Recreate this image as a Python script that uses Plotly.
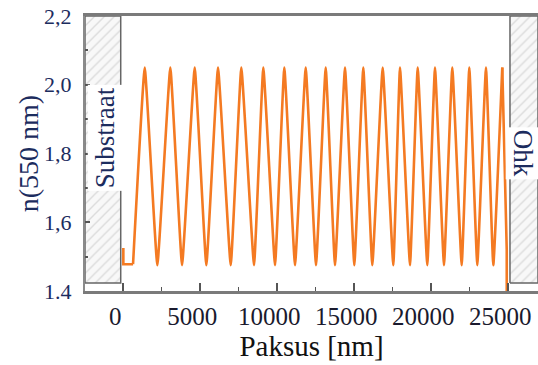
import plotly.graph_objects as go

# Refractive-index depth profile (rugate-type stack)
depth_nm = [0, 0, 630, 1390, 2208, 3052, 3812, 4636, 5390, 6149, 6974, 7662,
            8487, 9091, 9851, 10455, 11149, 11844, 12513, 13143, 13747, 14396,
            15000, 15584, 16169, 16844, 17532, 17968, 18617, 19117, 19740,
            20240, 20825, 21364, 21974, 22468, 22987, 23552, 24026, 24610,
            24900, 24900]
n_550 = [1.525, 1.478, 1.478, 2.05, 1.475, 2.05, 1.475, 2.05, 1.475, 2.05,
         1.475, 2.05, 1.475, 2.05, 1.475, 2.05, 1.475, 2.05, 1.475, 2.05,
         1.475, 2.05, 1.475, 2.05, 1.475, 2.05, 1.475, 2.05, 1.475, 2.05,
         1.475, 2.05, 1.475, 2.05, 1.475, 2.05, 1.475, 2.05, 1.475, 2.05,
         1.52, 1.0]

x_range = [-2490, 26930]
y_range = [1.4, 2.2]
substrate_nm = [-2490, -170]
ambient_nm = [25110, 26930]
region_n = [1.423, 2.2]

x_tickvals = [0, 5000, 10000, 15000, 20000, 25000]
y_tickvals = [1.4, 1.6, 1.8, 2.0, 2.2]
y_ticktext = ["1.4", "1,6", "1,8", "2,0", "2,2"]

SERIF = "Liberation Serif"
NAVY = "#1c2c5e"
ORANGE = "#f47a22"

fig = go.Figure()


def region(xr, yr):
    x0, x1 = xr
    y0, y1 = yr
    fig.add_trace(go.Scatter(
        x=[x0, x1, x1, x0, x0], y=[y0, y0, y1, y1, y0],
        mode="lines", fill="toself",
        line=dict(color="#666666", width=1.5),
        fillcolor="#f6f6f6",
        fillpattern=dict(shape="/", fgcolor="#bdbdbd", bgcolor="#f8f8f8",
                         size=7, solidity=0.2),
        hoverinfo="skip", showlegend=False))


region(substrate_nm, region_n)
region(ambient_nm, region_n)

# start segment, oscillating stack, end segment
fig.add_trace(go.Scatter(x=depth_nm[:3], y=n_550[:3], mode="lines",
                         line=dict(color=ORANGE, width=2.6), showlegend=False))
fig.add_trace(go.Scatter(x=depth_nm[2:-2], y=n_550[2:-2], mode="lines",
                         line=dict(color=ORANGE, width=2.6, shape="spline",
                                   smoothing=0.3),
                         showlegend=False))
fig.add_trace(go.Scatter(x=depth_nm[-3:], y=n_550[-3:], mode="lines",
                         line=dict(color=ORANGE, width=2.6), showlegend=False))

fig.add_annotation(x=-1170, y=1.845, text="Substraat",
                   textangle=-90, showarrow=False, bgcolor="white",
                   font=dict(family=SERIF, size=27, color=NAVY),
                   borderpad=2)
fig.add_annotation(x=26000, y=1.80, text="Ohk",
                   textangle=90, showarrow=False, bgcolor="white",
                   font=dict(family=SERIF, size=27, color=NAVY),
                   borderpad=2)
# y-axis title
fig.add_annotation(x=-0.124, y=0.5, xref="paper", yref="paper",
                   xanchor="center", yanchor="middle",
                   text="n(550 nm)", textangle=-90, showarrow=False,
                   font=dict(family=SERIF, size=28, color=NAVY))

fig.update_layout(
    width=538, height=365,
    margin=dict(l=85, r=0, t=16, b=74),
    paper_bgcolor="white", plot_bgcolor="white",
    font=dict(family=SERIF, color="#1a1a2e"),
)
fig.update_xaxes(
    range=x_range, tickvals=x_tickvals, tickformat="d",
    showgrid=False, zeroline=False,
    showline=True, linecolor="#7a7a7a", linewidth=3, mirror=True,
    ticks="inside", ticklen=8, tickwidth=1.5, tickcolor="#555555",
    minor=dict(ticks="inside", ticklen=4, dtick=2500, tickcolor="#555555", tickwidth=1.2),
    tickfont=dict(family=SERIF, size=25, color="#1a1a2e"),
    ticklabelstandoff=1, ticklabelshift=-8, ticklabeloverflow="allow",
    title=dict(text="Paksus [nm]", font=dict(family=SERIF, size=29, color="#111111"),
               standoff=7),
)
fig.update_yaxes(
    range=y_range, tickvals=y_tickvals, ticktext=y_ticktext,
    showgrid=False, zeroline=False,
    showline=True, linecolor="#8a8a8a", linewidth=2,
    ticks="inside", ticklen=5, tickwidth=1.5, tickcolor="#555555",
    minor=dict(ticks="inside", ticklen=3, dtick=0.1, tickcolor="#555555"),
    tickfont=dict(family=SERIF, size=22, color=NAVY),
    ticklabelstandoff=7,
)

fig.write_html("out.html")
